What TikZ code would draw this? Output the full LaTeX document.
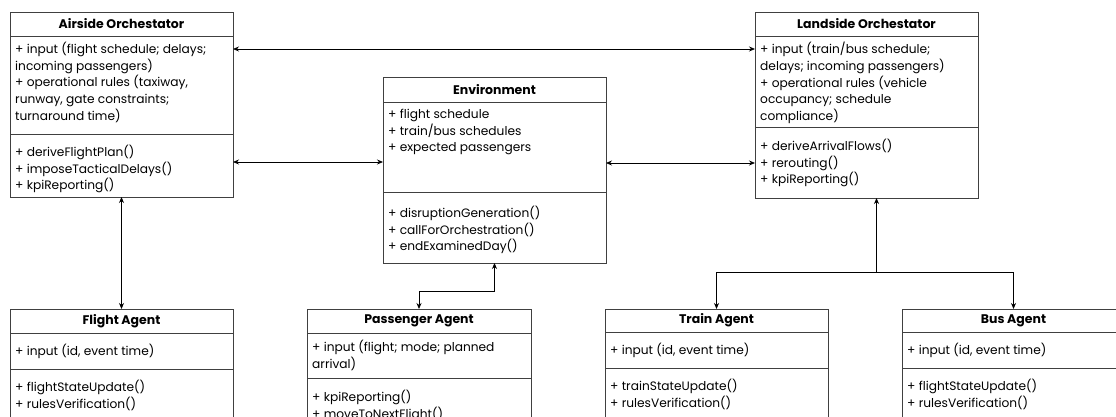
\documentclass[tikz,border=0pt]{standalone}
\usepackage{fontspec}
\setmainfont{Poppins}
\usetikzlibrary{positioning,arrows.meta}

\begin{document}
\begin{tikzpicture}[x=1pt,y=-1pt,
    box/.style={draw=black!75, line width=0.8pt, minimum width=223pt, inner sep=0pt, outer sep=0pt, anchor=north},
    title/.style={box, minimum height=#1, font=\fontsize{12.5}{14}\selectfont\bfseries},
    part/.style={box, minimum height=#1},
    txt/.style={anchor=north west, inner xsep=5pt, inner ysep=#1, align=left, font=\fontsize{12.2}{16.7}\selectfont},
    link/.style={line width=0.8pt, {Stealth[length=6pt,width=5pt]}-{Stealth[length=6pt,width=5pt]}},
    tip/.style={line width=0.8pt, -{Stealth[length=6pt,width=5pt]}},
    node distance=0pt]
    % Frame of the page
    \useasboundingbox (0,0) rectangle (1116,417);
    \clip (0,0) rectangle (1116,417);
    \fill[white] (0,0) rectangle (1116,417);

    % Airside Orchestator
    \node[title=24pt] (air-t) at (121.5,12) {Airside Orchestator};
    \node[part=98pt, below=of air-t] (air-a) {};
    \node[part=63pt, below=of air-a] (air-m) {};
    \node[txt=6pt] (air-at) at (air-a.north west) {+ input (flight schedule; delays;\\incoming passengers)\\+ operational rules (taxiway,\\runway, gate constraints;\\turnaround time)};
    \node[txt=11pt] (air-mt) at (air-m.north west) {+ deriveFlightPlan()\\+ imposeTacticalDelays()\\+ kpiReporting()};

    % Environment
    \node[title=25pt] (env-t) at (494.5,77) {Environment};
    \node[part=90pt, below=of env-t] (env-a) {};
    \node[part=71pt, below=of env-a] (env-m) {};
    \node[txt=7pt] (env-at) at (env-a.north west) {+ flight schedule\\+ train/bus schedules\\+ expected passengers};
    \node[txt=14pt] (env-mt) at (env-m.north west) {+ disruptionGeneration()\\+ callForOrchestration()\\+ endExaminedDay()};

    % Landside Orchestator
    \node[title=24pt] (land-t) at (866.5,12) {Landside Orchestator};
    \node[part=91pt, below=of land-t] (land-a) {};
    \node[part=71pt, below=of land-a] (land-m) {};
    \node[txt=6pt] (land-at) at (land-a.north west) {+ input (train/bus schedule;\\delays; incoming passengers)\\+ operational rules (vehicle\\occupancy; schedule\\compliance)};
    \node[txt=12pt] (land-mt) at (land-m.north west) {+ deriveArrivalFlows()\\+ rerouting()\\+ kpiReporting()};

    % Flight Agent
    \node[title=24pt] (flight-t) at (121.5,309) {Flight Agent};
    \node[part=36pt, below=of flight-t] (flight-a) {};
    \node[part=60pt, below=of flight-a] (flight-m) {};
    \node[txt=0pt, anchor=west] (flight-at) at (flight-a.west) {+ input (id, event time)};
    \node[txt=11pt] (flight-mt) at (flight-m.north west) {+ flightStateUpdate()\\+ rulesVerification()};

    % Passenger Agent
    \node[title=24pt, minimum width=224pt] (pass-t) at (419,309) {Passenger Agent};
    \node[part=45pt, minimum width=224pt, below=of pass-t] (pass-a) {};
    \node[part=60pt, minimum width=224pt, below=of pass-a] (pass-m) {};
    \node[txt=0pt, anchor=west] (pass-at) at (pass-a.west) {+ input (flight; mode; planned\\arrival)};
    \node[txt=12pt] (pass-mt) at (pass-m.north west) {+ kpiReporting()\\+ moveToNextFlight()};

    % Train Agent
    \node[title=23pt] (train-t) at (716.5,309) {Train Agent};
    \node[part=36pt, below=of train-t] (train-a) {};
    \node[part=60pt, below=of train-a] (train-m) {};
    \node[txt=0pt, anchor=west] (train-at) at (train-a.west) {+ input (id, event time)};
    \node[txt=11pt] (train-mt) at (train-m.north west) {+ trainStateUpdate()\\+ rulesVerification()};

    % Bus Agent
    \node[title=23pt] (bus-t) at (1013.5,309) {Bus Agent};
    \node[part=36pt, below=of bus-t] (bus-a) {};
    \node[part=60pt, below=of bus-a] (bus-m) {};
    \node[txt=0pt, anchor=west] (bus-at) at (bus-a.west) {+ input (id, event time)};
    \node[txt=11pt] (bus-mt) at (bus-m.north west) {+ flightStateUpdate()\\+ rulesVerification()};

    % Orchestrators and environment
    \draw[link] ([yshift=-13pt]air-a.north east) -- ([yshift=-13pt]land-a.north west);
    \draw[link] ([yshift=-28pt]air-m.north east) -- ([yshift=-28pt]air-m.north east -| env-a.west);
    \draw[link] ([yshift=-36pt]land-m.north west) -- ([yshift=-36pt]land-m.north west -| env-a.east);

    % Agents
    \draw[link] (air-m.south) -- (flight-t.north);
    \draw[link] (env-m.south) -- ++(0,28) -| (pass-t.north);
    \coordinate (fork) at ([xshift=10pt,yshift=-74pt]land-m.south);
    \draw[tip] (fork) -- (fork |- land-m.south);
    \draw[tip] (fork) -| (train-t.north);
    \draw[tip] (fork) -| (bus-t.north);
\end{tikzpicture}
\end{document}
